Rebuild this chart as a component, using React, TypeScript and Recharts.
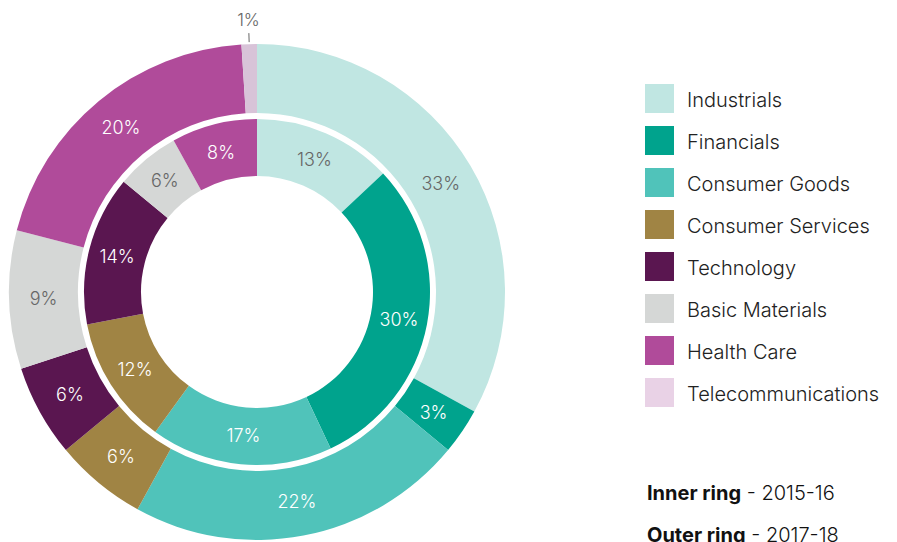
import React from 'react';
import { PieChart, Pie, Cell } from 'recharts';

const categories = [
  'Industrials',
  'Financials',
  'Consumer Goods',
  'Consumer Services',
  'Technology',
  'Basic Materials',
  'Health Care',
  'Telecommunications',
];
const colors = ['#C0E6E2', '#00A38D', '#50C3BA', '#A08444', '#5A1650', '#D5D7D6', '#B04B9A', '#E9D2E6'];
const sliceColors = ['#C0E6E2', '#00A38D', '#50C3BA', '#A08444', '#5A1650', '#D5D7D6', '#B04B9A', '#D8C3D8'];
const darkLabel = [true, false, false, false, false, true, false, true];
const inner2015 = [13, 30, 17, 12, 14, 6, 8, 0];
const outer2017 = [33, 3, 22, 6, 6, 9, 20, 1];

const FONT = 'Inter, "Open Sans", sans-serif';

const build = (vals: number[]) =>
  categories
    .map((name, i) => ({ name, value: vals[i], idx: i }))
    .filter((d) => d.value > 0);

const innerData = build(inner2015);
const outerData = build(outer2017);

const RAD = Math.PI / 180;

const makeLabel = (outside: boolean) => (props: any) => {
  const { cx, cy, midAngle, innerRadius, outerRadius, payload, value } = props;
  const idx = payload.idx;
  const small = outside && value < 2;
  const cos = Math.cos(-midAngle * RAD);
  const sin = Math.sin(-midAngle * RAD);
  if (small) {
    const r1 = outerRadius + 2;
    const r2 = outerRadius + 11;
    const rt = outerRadius + 24;
    return (
      <g>
        <line x1={cx + r1 * cos} y1={cy + r1 * sin} x2={cx + r2 * cos} y2={cy + r2 * sin} stroke="#666" strokeWidth={1} />
        <text x={cx + rt * cos} y={cy + rt * sin} fill="#666" fontSize={17} fontWeight={300} fontFamily={FONT} textAnchor="middle" dominantBaseline="central">
          {value}%
        </text>
      </g>
    );
  }
  const r = (innerRadius + outerRadius) / 2;
  return (
    <text
      x={cx + r * cos}
      y={cy + r * sin}
      fill={darkLabel[idx] ? '#666666' : '#FFFFFF'}
      fontSize={18}
      fontWeight={300}
      fontFamily={FONT}
      textAnchor="middle"
      dominantBaseline="central"
    >
      {value}%
    </text>
  );
};

export default function App() {
  return (
    <div style={{ position: 'fixed', left: 0, top: 0, width: 897, height: 542, background: '#fff', overflow: 'hidden' }}>
      <PieChart width={897} height={542} margin={{ top: 0, right: 0, bottom: 0, left: 0 }}>
        <Pie
          data={innerData}
          dataKey="value"
          cx={257}
          cy={292}
          innerRadius={116}
          outerRadius={173}
          startAngle={90}
          endAngle={-270}
          stroke="none"
          isAnimationActive={false}
          labelLine={false}
          label={makeLabel(false)}
        >
          {innerData.map((d) => (
            <Cell key={d.name} fill={sliceColors[d.idx]} />
          ))}
        </Pie>
        <Pie
          data={outerData}
          dataKey="value"
          cx={257}
          cy={292}
          innerRadius={179}
          outerRadius={248}
          startAngle={90}
          endAngle={-270}
          stroke="none"
          isAnimationActive={false}
          labelLine={false}
          label={makeLabel(true)}
        >
          {outerData.map((d) => (
            <Cell key={d.name} fill={sliceColors[d.idx]} />
          ))}
        </Pie>
      </PieChart>
      <div style={{ position: 'absolute', left: 645, top: 84 }}>
        {categories.map((c, i) => (
          <div key={c} style={{ display: 'flex', alignItems: 'center', height: 29, marginBottom: 13 }}>
            <div style={{ width: 29, height: 29, background: colors[i] }} />
            <span style={{ marginLeft: 13, marginTop: 3, fontFamily: FONT, fontSize: 20, fontWeight: 300, color: '#222', whiteSpace: 'nowrap' }}>{c}</span>
          </div>
        ))}
      </div>
      <div style={{ position: 'absolute', left: 647, top: 479, fontFamily: FONT, fontSize: 20, fontWeight: 300, color: '#111', whiteSpace: 'nowrap' }}>
        <div style={{ height: 28, lineHeight: '28px' }}>
          <b style={{ fontWeight: 700 }}>Inner ring</b> - 2015-16
        </div>
        <div style={{ height: 28, lineHeight: '28px', marginTop: 14 }}>
          <b style={{ fontWeight: 700 }}>Outer ring</b> - 2017-18
        </div>
      </div>
    </div>
  );
}
